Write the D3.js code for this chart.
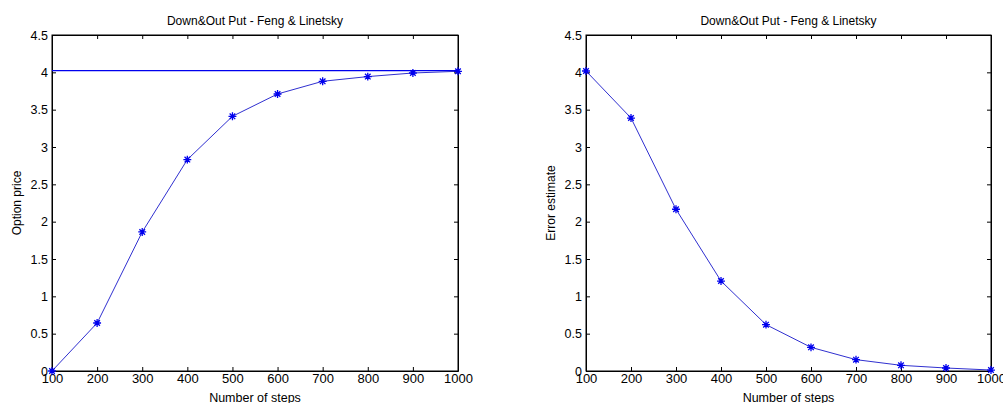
<!DOCTYPE html>
<html>
<head>
<meta charset="utf-8">
<script src="https://cdn.jsdelivr.net/npm/d3@7"></script>
<style>
  body { margin: 0; background: #fff; }
  text { font-family: "Liberation Sans", Arial, sans-serif; fill: #000; }
</style>
</head>
<body>
<script>
// data
var steps = [100, 200, 300, 400, 500, 600, 700, 800, 900, 1000];
var optionPrice = [0, 0.643, 1.862, 2.831, 3.411, 3.710, 3.880, 3.943, 3.991, 4.014];
var errorEstimate = [4.018, 3.388, 2.166, 1.205, 0.621, 0.317, 0.152, 0.076, 0.040, 0.013];
var referencePrice = 4.023;
var xTicks = [100, 200, 300, 400, 500, 600, 700, 800, 900, 1000];
var yTicks = [0, 0.5, 1, 1.5, 2, 2.5, 3, 3.5, 4, 4.5];
var titleText = "Down&Out Put - Feng & Linetsky";

var canvas = d3.select("body")
    .append("svg")
    .attr("width", 1003)
    .attr("height", 403);

canvas.append("rect")
    .attr("width", 1003)
    .attr("height", 403)
    .attr("fill", "#fff");

var lineColor = "#3030d0";
var markColor = "#0000ee";

// matlab style '*' marker
var asterisk = {
    draw: function(context, size){
        var r = Math.sqrt(size) / 1.6;
        var d = r * 0.7071;
        context.moveTo(-r, 0); context.lineTo(r, 0);
        context.moveTo(0, -r); context.lineTo(0, r);
        context.moveTo(-d, -d); context.lineTo(d, d);
        context.moveTo(-d, d); context.lineTo(d, -d);
    }
};

function drawPanel(left, right, values, yLabel, withRef){
    var top = 35, bottom = 371;
    var x = d3.scaleLinear().domain([100, 1000]).range([left, right]);
    var y = d3.scaleLinear().domain([0, 4.5]).range([bottom, top]);
    var g = canvas.append("g");

    // axes, ticks point inward
    var fmt = function(d){ return String(d); };
    var bx = g.append("g").attr("transform", "translate(0," + bottom + ")")
        .call(d3.axisBottom(x).tickValues(xTicks).tickSizeInner(-4).tickSizeOuter(0).tickPadding(3).tickFormat(fmt));
    g.append("g").attr("transform", "translate(0," + top + ")")
        .call(d3.axisTop(x).tickValues(xTicks).tickSizeInner(-4).tickSizeOuter(0).tickFormat(""));
    var ly = g.append("g").attr("transform", "translate(" + left + ",0)")
        .call(d3.axisLeft(y).tickValues(yTicks).tickSizeInner(-4).tickSizeOuter(0).tickPadding(4).tickFormat(fmt));
    g.append("g").attr("transform", "translate(" + right + ",0)")
        .call(d3.axisRight(y).tickValues(yTicks).tickSizeInner(-4).tickSizeOuter(0).tickFormat(""));

    g.selectAll(".domain").attr("stroke", "#000");
    g.selectAll(".tick line").attr("stroke", "#000");
    g.selectAll(".tick text")
        .attr("font-family", "Liberation Sans, Arial, sans-serif")
        .attr("fill", "#111");
    bx.selectAll(".tick text").attr("font-size", 13);
    ly.selectAll(".tick text").attr("font-size", 12.5);

    // box
    g.append("rect")
        .attr("x", left).attr("y", top)
        .attr("width", right - left).attr("height", bottom - top)
        .attr("fill", "none").attr("stroke", "#000").attr("stroke-width", 1);

    if (withRef){
        g.append("line")
            .attr("x1", left).attr("x2", right)
            .attr("y1", y(referencePrice)).attr("y2", y(referencePrice))
            .attr("stroke", markColor).attr("stroke-width", 1.2);
    }

    var pts = steps.map(function(s, i){ return [s, values[i]]; });
    var line = d3.line()
        .x(function(d){ return x(d[0]); })
        .y(function(d){ return y(d[1]); });
    g.append("path")
        .attr("d", line(pts))
        .attr("fill", "none")
        .attr("stroke", lineColor)
        .attr("stroke-width", 1);

    var star = d3.symbol().type(asterisk).size(40);
    g.selectAll(".mk").data(pts).enter().append("path")
        .attr("class", "mk")
        .attr("d", star)
        .attr("transform", function(d){ return "translate(" + x(d[0]) + "," + y(d[1]) + ")"; })
        .attr("fill", "none")
        .attr("stroke", markColor)
        .attr("stroke-width", 1.3);

    // titles
    g.append("text")
        .attr("x", (left + right) / 2).attr("y", 25)
        .attr("text-anchor", "middle")
        .attr("font-size", 12)
        .attr("fill", "#111")
        .text(titleText);
    g.append("text")
        .attr("x", (left + right) / 2).attr("y", 402)
        .attr("text-anchor", "middle")
        .attr("font-size", 12.5)
        .attr("fill", "#111")
        .text("Number of steps");
    g.append("text")
        .attr("transform", "translate(" + (left - 31) + "," + ((top + bottom) / 2) + ") rotate(-90)")
        .attr("text-anchor", "middle")
        .attr("font-size", 12)
        .attr("fill", "#111")
        .text(yLabel);
}

drawPanel(52, 458, optionPrice, "Option price", true);
drawPanel(586, 991, errorEstimate, "Error estimate", false);
</script>
</body>
</html>
